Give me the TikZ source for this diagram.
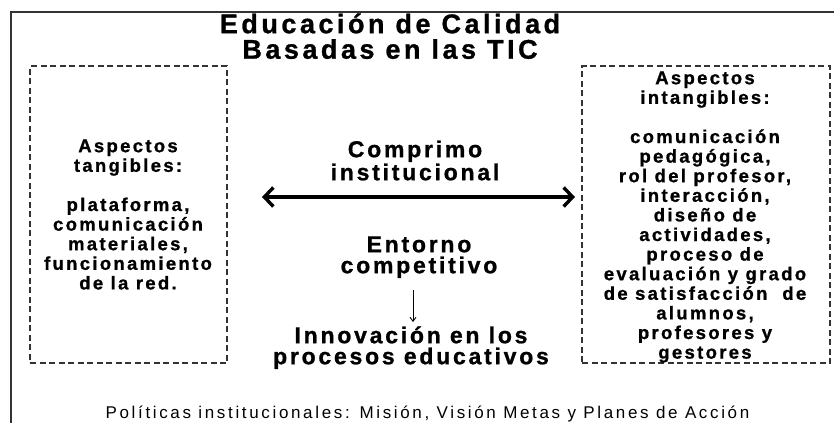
\documentclass[tikz,border=0pt]{standalone}
\usepackage{fontspec}
\setmainfont{Liberation Sans}[BoldFont={Liberation Sans Bold}, BoldFeatures={FakeBold=1}, LetterSpace=12.5]
\usetikzlibrary{arrows.meta}
\tikzset{
  txt/.style={inner sep=0pt, align=center, anchor=north, text=black},
  boxtxt/.style={txt, font=\fontsize{18.5}{19.6}\selectfont\bfseries},
  midfont/.style={font=\fontsize{23}{#1}\selectfont\bfseries\addfontfeature{LetterSpace=12}},
  dbox/.style={draw=black!80, line width=1.3pt, dash pattern=on 6pt off 3.5pt, inner sep=0pt, minimum width=#1, minimum height=297pt},
  bigarrow/.style={line width=3.4pt, {Straight Barb[length=9pt,width=19pt,line width=3.4pt]}-{Straight Barb[length=9pt,width=19pt,line width=3.4pt]}},
  smallarrow/.style={line width=0.9pt, -{Straight Barb[length=4pt,width=6pt]}},
}
\newcommand{\fr}[1]{\rule{0pt}{#1}}
\begin{document}
\begin{tikzpicture}[x=1pt,y=-1pt]
\useasboundingbox[fill=white] (0,0) rectangle (835,423);
% frame
\draw[black!80, line width=1.7pt] (834,12) -- (11,12) -- (11,423);
% dashed boxes
\node[dbox=197pt] (lbox) at (128.5,214.5) {};
\node[dbox=248pt] (rbox) at (706,214.5) {};
% title
\node[txt, font=\fontsize{27}{25.5}\selectfont\bfseries\addfontfeature{LetterSpace=13}] (title) at (390,6) {\fr{27pt}Educación de Calidad\\Basadas en las TIC};
% box texts
\node[boxtxt] (ltxt) at (128,133.5) {\fr{18.5pt}Aspectos\\tangibles:\\[19.6pt] plataforma,\\comunicación\\materiales,\\funcionamiento\\de la red.};
\node[boxtxt] (rtxt) at (705,65.5) {\fr{18.5pt}Aspectos\\intangibles:\\[19.6pt] comunicación\\pedagógica,\\rol del profesor,\\interacción,\\diseño de\\actividades,\\proceso de\\evaluación y grado\\de satisfacción \ de\\alumnos,\\profesores y\\gestores};
% middle texts
\node[txt, midfont=23] (comp) at (415,134) {\fr{23pt}Comprimo\\institucional};
\node[txt, midfont=21] (ent) at (419,229) {\fr{23pt}Entorno\\competitivo};
\node[txt, midfont=21] (inn) at (411,320) {\fr{23pt}Innovación en los\\procesos educativos};
% bottom
\node[inner sep=0pt, anchor=base, font=\fontsize{17}{17}\selectfont\addfontfeature{LetterSpace=15.6}] (pol) at (427.5,418) {Políticas institucionales: Misión, Visión Metas y Planes de Acción};
% arrows
\coordinate (aL) at (262,197);
\coordinate (aR) at (575,197);
\draw[bigarrow] (aL) -- (aR);
\coordinate (s1) at (413,290);
\coordinate (s2) at (413,322);
\draw[smallarrow] (s1) -- (s2);
\end{tikzpicture}
\end{document}
